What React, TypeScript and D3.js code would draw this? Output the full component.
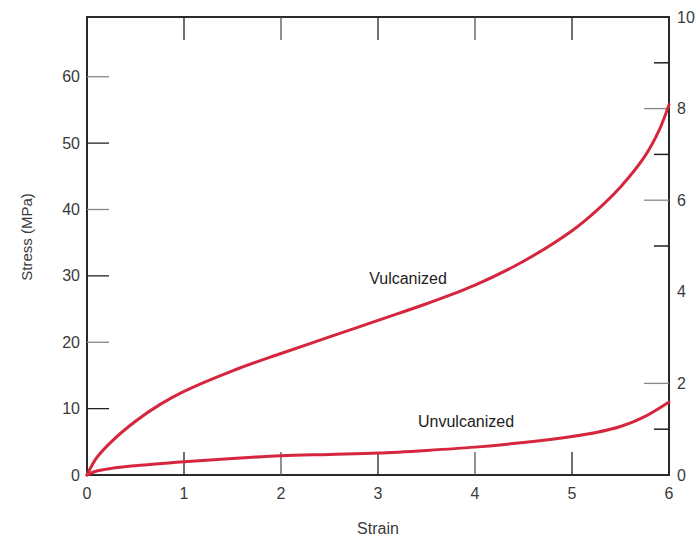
import React, { useEffect, useRef } from 'react';
import * as d3 from 'd3';

// strain values and stress (MPa)
const vulcStrain = [0, 0.1, 0.25, 0.5, 0.75, 1, 1.5, 2, 2.5, 3, 3.5, 4, 4.5, 5, 5.25, 5.5, 5.75, 5.9, 6];
const vulcStress = [0, 2.6, 5.0, 8.1, 10.6, 12.6, 15.7, 18.3, 20.8, 23.3, 25.8, 28.6, 32.2, 36.8, 39.8, 43.4, 48.0, 52.0, 55.8];
const unvulcStrain = [0, 0.1, 0.25, 0.5, 1, 1.5, 2, 2.5, 3, 3.5, 4, 4.5, 5, 5.25, 5.5, 5.75, 6];
const unvulcStress = [0, 0.6, 1.0, 1.4, 2.0, 2.5, 2.9, 3.1, 3.3, 3.7, 4.2, 4.9, 5.8, 6.4, 7.3, 8.8, 11];

const strainTicks = [0, 1, 2, 3, 4, 5, 6];
const mpaTicks = [0, 10, 20, 30, 40, 50, 60];
const ksiLabels = [0, 2, 4, 6, 8, 10];
const ksiLongTicks = [2, 6, 8];
const ksiShortTicks = [1, 5, 7, 9];

const App = () => {
  const svgRef = useRef(null);

  useEffect(() => {
    const svg = d3.select(svgRef.current);
    svg.selectAll('*').remove();

    const left = 87, right = 669, top = 17, bottom = 475;
    const font = '"Liberation Sans", Arial, sans-serif';
    const textColor = '#3a3a3a';

    const x = d3.scaleLinear().domain([0, 6]).range([left, right]);
    const y = d3.scaleLinear().domain([0, 69]).range([bottom, top]);
    const yKsi = d3.scaleLinear().domain([0, 10]).range([bottom, top]);

    // frame
    svg.append('rect')
      .attr('x', left).attr('y', top)
      .attr('width', right - left).attr('height', bottom - top)
      .attr('fill', 'none').attr('stroke', '#2a2a2a').attr('stroke-width', 2);

    // inner x ticks, bottom and top
    strainTicks.filter(t => t > 0 && t < 6).forEach((t, i) => {
      const col = i % 2 === 0 ? '#222' : '#555';
      svg.append('line')
        .attr('x1', x(t)).attr('x2', x(t))
        .attr('y1', bottom).attr('y2', bottom - 23)
        .attr('stroke', col).attr('stroke-width', 1.3);
      svg.append('line')
        .attr('x1', x(t)).attr('x2', x(t))
        .attr('y1', top).attr('y2', top + 23)
        .attr('stroke', col).attr('stroke-width', 1.3);
    });

    // left ticks
    mpaTicks.filter(t => t > 0).forEach((t, i) => {
      svg.append('line')
        .attr('x1', left).attr('x2', left + 22)
        .attr('y1', y(t)).attr('y2', y(t))
        .attr('stroke', i % 2 === 0 ? '#222' : '#888').attr('stroke-width', 1.3);
    });

    // right ticks
    ksiLongTicks.forEach(t => {
      svg.append('line')
        .attr('x1', right - 25).attr('x2', right)
        .attr('y1', yKsi(t)).attr('y2', yKsi(t))
        .attr('stroke', '#888').attr('stroke-width', 1.3);
    });
    ksiShortTicks.forEach(t => {
      svg.append('line')
        .attr('x1', right - 15).attr('x2', right)
        .attr('y1', yKsi(t)).attr('y2', yKsi(t))
        .attr('stroke', '#222').attr('stroke-width', 1.5);
    });

    // tick labels
    svg.append('g').selectAll('text')
      .data(mpaTicks)
      .join('text')
      .attr('x', 80).attr('y', d => y(d))
      .attr('dy', '0.35em').attr('text-anchor', 'end')
      .attr('font-family', font).attr('font-size', 16).attr('fill', textColor)
      .text(d => d);

    svg.append('g').selectAll('text')
      .data(strainTicks)
      .join('text')
      .attr('x', d => x(d)).attr('y', 493)
      .attr('dy', '0.35em').attr('text-anchor', 'middle')
      .attr('font-family', font).attr('font-size', 16).attr('fill', textColor)
      .text(d => d);

    svg.append('g').selectAll('text')
      .data(ksiLabels)
      .join('text')
      .attr('x', 677).attr('y', d => yKsi(d))
      .attr('dy', '0.35em').attr('text-anchor', 'start')
      .attr('font-family', font).attr('font-size', 16).attr('fill', textColor)
      .text(d => d);

    // axis titles
    svg.append('text')
      .attr('transform', 'translate(27,237) rotate(-90)')
      .attr('dy', '0.35em').attr('text-anchor', 'middle')
      .attr('font-family', font).attr('font-size', 15).attr('fill', textColor)
      .text('Stress (MPa)');

    svg.append('text')
      .attr('x', 378).attr('y', 528)
      .attr('dy', '0.35em').attr('text-anchor', 'middle')
      .attr('font-family', font).attr('font-size', 16).attr('fill', textColor)
      .text('Strain');

    // curves
    const line = d3.line<[number, number]>()
      .x(d => x(d[0])).y(d => y(d[1]))
      .curve(d3.curveCatmullRom.alpha(0.5));

    const series = [
      vulcStrain.map((s, i) => [s, vulcStress[i]] as [number, number]),
      unvulcStrain.map((s, i) => [s, unvulcStress[i]] as [number, number]),
    ];

    series.forEach(pts => {
      svg.append('path')
        .attr('d', line(pts))
        .attr('fill', 'none')
        .attr('stroke', '#d6263e')
        .attr('stroke-width', 3)
        .attr('stroke-linecap', 'round');
    });

    // curve labels
    svg.append('text')
      .attr('x', 408).attr('y', 278)
      .attr('dy', '0.35em').attr('text-anchor', 'middle')
      .attr('font-family', font).attr('font-size', 16).attr('fill', '#222')
      .text('Vulcanized');

    svg.append('text')
      .attr('x', 466).attr('y', 421)
      .attr('dy', '0.35em').attr('text-anchor', 'middle')
      .attr('font-family', font).attr('font-size', 16).attr('fill', '#222')
      .text('Unvulcanized');
  }, []);

  return (
    <svg ref={svgRef} width={696} height={538}
      style={{ position: 'absolute', left: 0, top: 0, background: 'white' }} />
  );
};

export default App;
